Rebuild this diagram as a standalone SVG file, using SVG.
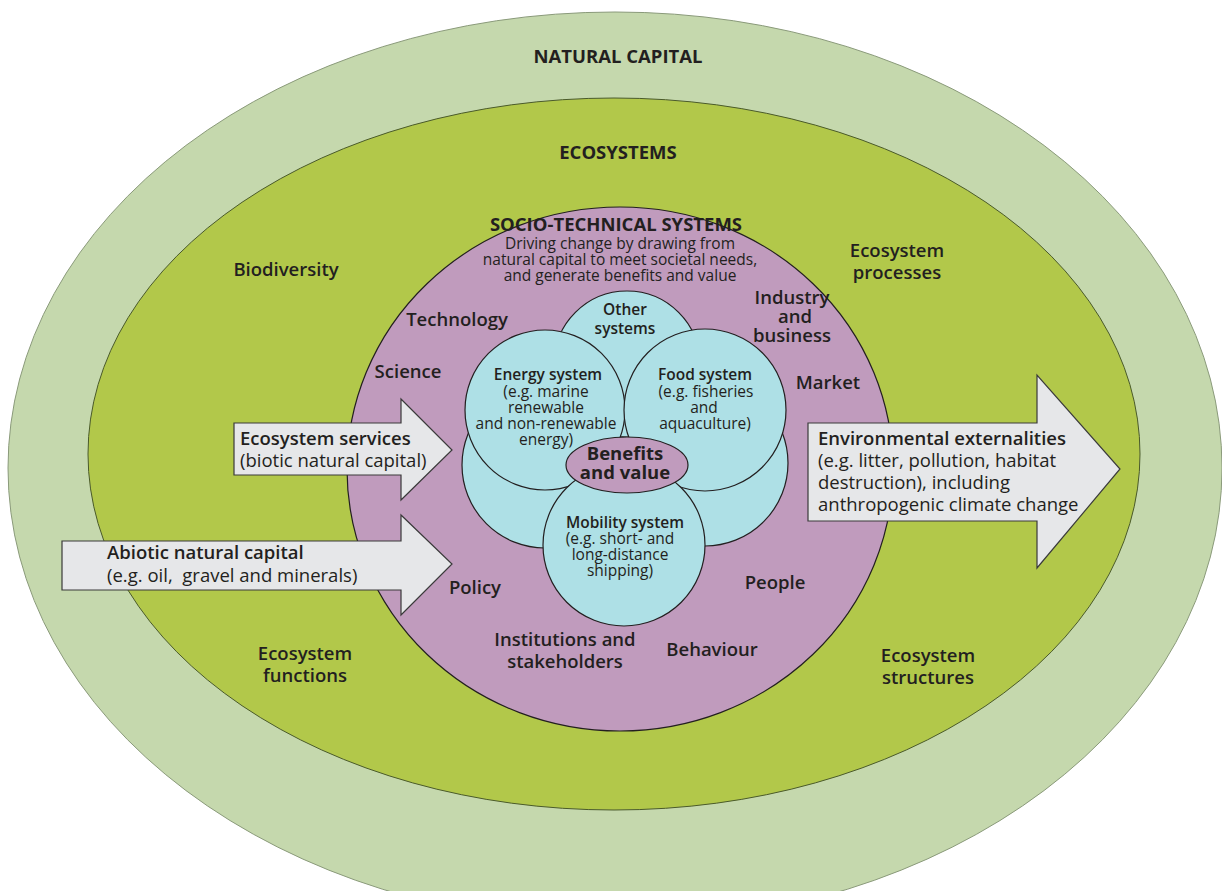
<svg xmlns="http://www.w3.org/2000/svg" width="1222" height="891" viewBox="0 0 1222 891">
<style>
text{font-family:"Open Sans","Noto Sans","Liberation Sans",sans-serif;fill:#231f20;}
.h{font-size:18.5px;font-weight:700;text-anchor:middle;}
.l{font-size:18.5px;font-weight:600;text-anchor:middle;}
.s{font-size:15.5px;text-anchor:middle;}
.sb{font-size:15.5px;font-weight:600;text-anchor:middle;}
.ab{font-size:18.5px;font-weight:600;}
.ar{font-size:18.5px;}
.c{fill:#aee0e6;stroke:#231f20;stroke-width:1.2;}
.arrow{fill:#e6e7e9;stroke:#3a3a3a;stroke-width:1.2;}
</style>
<rect width="1222" height="891" fill="#ffffff"/>
<g id="natural-capital">
<ellipse cx="615" cy="468" rx="607" ry="456" fill="#c5d8ad" stroke="#8a9a7a" stroke-width="1"/>
<text class="h" x="618" y="63">NATURAL CAPITAL</text>
</g>
<g id="ecosystems">
<ellipse cx="614" cy="454" rx="526" ry="356" fill="#b2c84a" stroke="#4a5a2a" stroke-width="1"/>
<text class="h" x="618" y="159">ECOSYSTEMS</text>
<text class="l" x="286" y="276">Biodiversity</text>
<text class="l" x="897" y="257">Ecosystem</text>
<text class="l" x="897" y="279">processes</text>
<text class="l" x="305" y="660">Ecosystem</text>
<text class="l" x="305" y="682">functions</text>
<text class="l" x="928" y="662">Ecosystem</text>
<text class="l" x="928" y="684">structures</text>
</g>
<g id="socio-technical">
<ellipse cx="620" cy="469" rx="273" ry="262" fill="#c09bbd" stroke="#231f20" stroke-width="1.2"/>
<text class="h" x="616" y="231">SOCIO-TECHNICAL SYSTEMS</text>
<text class="s" x="620" y="249">Driving change by drawing from</text>
<text class="s" x="620" y="265">natural capital to meet societal needs,</text>
<text class="s" x="620" y="281">and generate benefits and value</text>
<text class="l" x="457" y="326">Technology</text>
<text class="l" x="408" y="378">Science</text>
<text class="l" x="792" y="304">Industry</text>
<text class="l" x="795" y="323">and</text>
<text class="l" x="792" y="342">business</text>
<text class="l" x="828" y="389">Market</text>
<text class="l" x="475" y="594">Policy</text>
<text class="l" x="775" y="589">People</text>
<text class="l" x="565" y="646">Institutions and</text>
<text class="l" x="565" y="668">stakeholders</text>
<text class="l" x="712" y="656">Behaviour</text>
</g>
<g id="lower-left-circle"><circle class="c" cx="545" cy="465" r="83"/></g>
<g id="lower-right-circle"><circle class="c" cx="705" cy="463" r="83"/></g>
<g id="other-systems">
<circle class="c" cx="627" cy="364" r="73"/>
<text class="sb" x="625" y="315">Other</text>
<text class="sb" x="625" y="334">systems</text>
</g>
<g id="energy-system">
<circle class="c" cx="545" cy="410" r="80"/>
<text class="sb" x="548" y="380">Energy system</text>
<text class="s" x="546" y="397">(e.g. marine</text>
<text class="s" x="546" y="413">renewable</text>
<text class="s" x="546" y="429">and non-renewable</text>
<text class="s" x="546" y="445">energy)</text>
</g>
<g id="food-system">
<circle class="c" cx="705" cy="410" r="81"/>
<text class="sb" x="705" y="380">Food system</text>
<text class="s" x="706" y="397">(e.g. fisheries</text>
<text class="s" x="704" y="413">and</text>
<text class="s" x="705" y="429">aquaculture)</text>
</g>
<g id="mobility-system">
<circle class="c" cx="624" cy="545" r="81"/>
<text class="sb" x="625" y="528">Mobility system</text>
<text class="s" x="620" y="544">(e.g. short- and</text>
<text class="s" x="620" y="560">long-distance</text>
<text class="s" x="620" y="576">shipping)</text>
</g>
<g id="benefits-value">
<ellipse cx="627" cy="465" rx="61" ry="28" fill="#c09bbd" stroke="#231f20" stroke-width="1.2"/>
<text class="h" x="625" y="460">Benefits</text>
<text class="h" x="625" y="479">and value</text>
</g>
<g id="connectors">
<g id="arrow-ecosystem-services">
<polygon class="arrow" points="234,423 401,423 401,399 452,450 401,500 401,475 234,475"/>
<text class="ab" x="240" y="445">Ecosystem services</text>
<text class="ar" x="240" y="467">(biotic natural capital)</text>
</g>
<g id="arrow-abiotic">
<polygon class="arrow" points="62,541 401,541 401,515 452,564 401,615 401,590 62,590"/>
<text class="ab" x="107" y="559">Abiotic natural capital</text>
<text class="ar" x="107" y="582" xml:space="preserve">(e.g. oil,  gravel and minerals)</text>
</g>
<g id="arrow-externalities">
<polygon class="arrow" points="808,423 1037,423 1037,375 1120,469 1037,568 1037,521 808,521"/>
<text class="ab" x="818" y="445">Environmental externalities</text>
<text class="ar" x="818" y="467">(e.g. litter, pollution, habitat</text>
<text class="ar" x="818" y="489">destruction), including</text>
<text class="ar" x="818" y="511">anthropogenic climate change</text>
</g>
</g>
</svg>
